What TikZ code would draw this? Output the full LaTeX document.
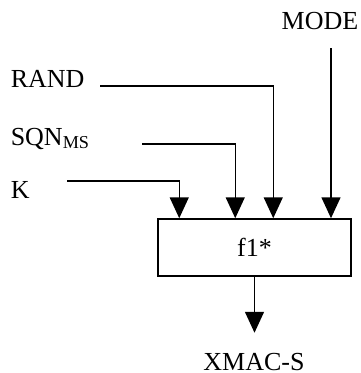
\documentclass[tikz,border=0pt]{standalone}
\usepackage{fontspec}
\setmainfont{Liberation Serif}
\usetikzlibrary{arrows.meta}

\begin{document}
\begin{tikzpicture}[> = {Triangle[width = 19pt, length = 21pt]}, x = 1pt, y = -1pt, line width = 1.5pt,
	label/.style = {inner sep = 0, font = \fontsize{26}{30}\selectfont}]

	\useasboundingbox (0, 0) rectangle (361, 373);

	% Labels

	\node [label, anchor = base] (mode) at (320, 29) {MODE};
	\node [label, anchor = base west] (rand) at (10, 87) {RAND};
	\node [label, anchor = base west] (sqn) at (10, 145) {SQN\textsubscript{MS}};
	\node [label, anchor = base west] (k) at (10, 198) {K};
	\node [label, anchor = base] (xmac) at (254, 370) {XMAC-S};

	% Box

	\node [draw, minimum width = 193pt, minimum height = 57pt, font = \fontsize{26}{30}\selectfont] (f1) at (254.5, 247.5) {f1*};

	% Inputs

	\coordinate (kin) at (67, 181);
	\coordinate (sqnin) at (142, 144);
	\coordinate (randin) at (100, 86);
	\coordinate (modein) at (331, 48);

	\draw [->] (kin) -| ([xshift = 22pt] f1.north west);
	\draw [->] (sqnin) -| ([xshift = 78pt] f1.north west);
	\draw [->] (randin) -| ([xshift = 116pt] f1.north west);
	\draw [->] (modein) -- (modein |- f1.north);

	% Output

	\draw [->] (f1.south) -- ([yshift = -56pt] f1.south);

\end{tikzpicture}
\end{document}
